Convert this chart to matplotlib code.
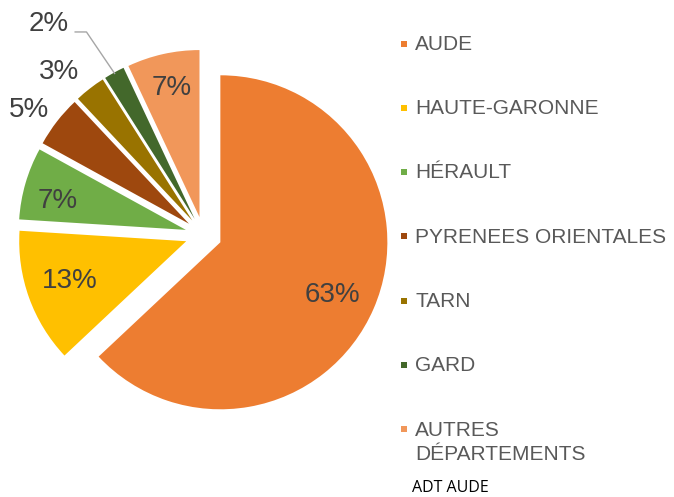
"""Répartition par département d'origine (camembert éclaté, style Excel)."""

import numpy as np
import matplotlib.pyplot as plt
from matplotlib.patches import Rectangle

# ── Data ──────────────────────────────────────────────────────────────── #

departements = [
    "AUDE",
    "HAUTE-GARONNE",
    "HÉRAULT",
    "PYRENEES ORIENTALES",
    "TARN",
    "GARD",
    "AUTRES\nDÉPARTEMENTS",
]
parts = [63, 13, 7, 5, 3, 2, 7]
couleurs = ["#ED7D31", "#FFC000", "#70AD47", "#9E480E", "#997300", "#43682B", "#F1975A"]
source = "ADT AUDE"

# ── Layout (pixels of a 674x497 canvas) ──────────────────────────────── #

W, H = 674, 497
CX, CY, R = 203.5, 235.0, 167.0          # pie centre and radius
EXPLODE = 0.11
# radial distance / angular shift (deg) of each percentage label
label_r = [0.853, 0.846, 0.898, 1.285, 1.304, 1.568, 0.901]
label_shift = [-1.7, -0.8, 3.1, 2.2, 3.8, 7.5, -0.3]

TXT = "#404040"
LEG = "#595959"

fig = plt.figure(figsize=(W / 100, H / 100), dpi=100)
ax = fig.add_axes([0, 0, 1, 1])

wedges, _ = ax.pie(
    parts,
    colors=couleurs,
    startangle=90,
    counterclock=False,
    explode=[EXPLODE] * len(parts),
    radius=1.0,
    wedgeprops=dict(linewidth=0),
)
ax.set_xlim(-CX / R, (W - CX) / R)
ax.set_ylim(-(H - CY) / R, CY / R)
ax.set_aspect("equal")
ax.axis("off")

for w, p, r, s in zip(wedges, parts, label_r, label_shift):
    mid = np.deg2rad((w.theta1 + w.theta2) / 2 + s)
    x, y = r * np.cos(mid), r * np.sin(mid)
    ax.text(x, y, f"{p}%", ha="center", va="center",
            fontsize=20, color=TXT, family="Liberation Sans")

# leader line for the small 2% slice
w = wedges[5]
mid = np.deg2rad((w.theta1 + w.theta2) / 2)
end = (w.center[0] + 0.99 * np.cos(mid), w.center[1] + 0.99 * np.sin(mid))
mid_lbl = np.deg2rad((w.theta1 + w.theta2) / 2 + label_shift[5])
lx, ly = label_r[5] * np.cos(mid_lbl), label_r[5] * np.sin(mid_lbl)
start = (lx + 26 / R, ly - 8 / R)
elbow = (lx + 38 / R, ly - 8 / R)
ax.plot([start[0], elbow[0], end[0]], [start[1], elbow[1], end[1]],
        color="#A6A6A6", linewidth=1.0, solid_capstyle="butt")

# ── Legend (drawn by hand, Excel-like spacing) ───────────────────────── #

y0, dy, line_h = 42.5, 64.25, 25.0
for i, (lab, col) in enumerate(zip(departements, couleurs)):
    yc = y0 + i * dy
    fig.patches.append(Rectangle((401 / W, 1 - (yc + 4) / H), 6 / W, 6 / H,
                                 transform=fig.transFigure, facecolor=col,
                                 edgecolor="none"))
    for k, line in enumerate(lab.split("\n")):
        fig.text(415 / W, 1 - (yc + 7.5 + k * line_h) / H, line,
                 ha="left", va="baseline",
                 fontsize=15, color=LEG, family="Liberation Sans")

fig.text(412 / W, 1 - 492 / H, source, ha="left", va="baseline",
         fontsize=11.5, color="black", family="Open Sans")

fig.savefig("out.png", dpi=100)
